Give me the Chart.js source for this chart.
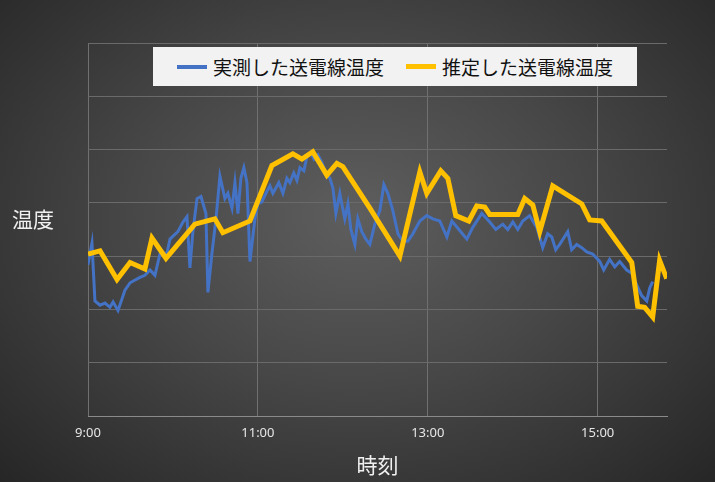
<!DOCTYPE html>
<html><head><meta charset="utf-8">
<script src="https://cdn.jsdelivr.net/npm/chart.js@4"></script>
<style>
html,body{margin:0;padding:0;}
body{width:715px;height:482px;overflow:hidden;position:relative;font-family:"Noto Sans CJK JP",sans-serif;
background:radial-gradient(ellipse at 50% 45%, #5e5e5e 0%, #474747 45%, #262626 100%);}
#c{position:absolute;left:0;top:0;}
#ytitle{position:absolute;left:12px;top:203px;color:#f0f0f0;font-size:21px;}
#legend{position:absolute;left:153px;top:47px;width:484px;height:39px;background:#f2f2f2;display:flex;align-items:center;justify-content:center;gap:22px;font-size:19px;color:#111;}
.it{display:flex;align-items:center;gap:6px;}
.sw{display:inline-block;width:30px;height:4px;}
</style></head><body>
<canvas id="c" width="715" height="482"></canvas>
<div id="ytitle">温度</div>
<div id="legend"><span class="it"><span class="sw" style="background:#4472C4"></span>実測した送電線温度</span><span class="it"><span class="sw" style="background:#FFC000;height:5px"></span>推定した送電線温度</span></div>
<script>
const measuredT=[0,2.8,4.9,8.5,12,15.5,17.7,21.2,26.1,29.7,36.7,40.2,43.8,47.3,50.8,55.8,57.9,63.5,67.1,69.9,72,74.1,77,79.8,83.3,84.7,87.5,90.4,93.2,96.7,98.8,101.7,103.8,105.9,108,110.1,112.3,114.4,117.9,120,122.8,125.7,128.5,130.6,132.7,134.8,137.7,140.5,142.6,145.4,147.6,149.7,152.5,154.6,157.4,159.6,162.4,165.2,168,170.9,173,175.1,177.9,179.3,181.4,183.6,185.7,188.5,190.6,193.4,196.3,199.1,202.6,206.2,209,211.8,215.3,218.9,222.4,225.9,229.5,234.4,239.3,243.6,248.5,253.5,257,262.6,267.6,271.8,278.2,283.8,288.1,293,296.5,300.1,303.6,307.1,312,317,321.2,324.7,327.6,330.4,333.2,338.9,341.7,345.2,348.8,352.3,356.5,361.5,364.3,368.5,372.1,375.6,380.5,384.1,387.6,391.1,394.7,396.8,398.9];
const measuredV=[34.2,36.2,30.8,30.4,30.6,30.2,30.7,29.9,31.8,32.5,33,33.2,33.7,33.2,35.2,35.3,36.6,37.3,38.2,38.7,33.9,37.3,40.4,40.6,39,31.6,35.2,38.5,42.5,40.4,40.9,39.5,41.9,39,42.3,43.3,41.9,34.5,38.5,39.9,40.1,40.9,41.6,40.9,41.4,41.9,40.9,42.3,41.9,42.8,42.1,43.3,43,44.3,44.7,44.1,44.5,43.8,42.8,42.3,41.4,39,40.9,39.9,38.5,39.9,37.5,36.1,38.5,37.3,36.6,36.1,38,39.3,41.7,40.9,39.3,37.1,36.4,36.4,37.1,38.3,38.8,38.5,38.3,36.8,38.3,37.4,36.6,37.7,39,38.2,37.5,38,37.5,38.2,37.5,38.3,38.8,37.7,35.8,37.1,36.8,35.6,36.1,37.3,35.6,36.1,35.8,35.4,35.2,34.5,33.7,34.7,34,34.5,33.7,33.4,32.3,31.3,30.8,32,32.6];
const estimatedT=[0,8.5,20.5,29.7,40.2,45.2,55.1,75.5,89.6,95.3,114.4,129.9,144.7,151.1,158.8,168.7,175.8,180,199.1,220.3,234.4,239.3,249.2,254.2,259.8,269,274.6,280.3,283.8,303.6,308.5,314.2,319.1,328.3,348.8,354.4,362.9,384.1,388.3,393.2,398.9,403.8,408.8];
const estimatedV=[35.2,35.5,32.8,34.4,33.8,36.7,34.8,38,38.5,37.2,38.3,43.5,44.6,44.1,44.8,42.6,43.7,43.4,39.5,35,42.9,40.9,43,42.3,38.8,38.3,39.7,39.6,38.9,38.9,40.4,39.8,37.3,41.6,39.9,38.4,38.3,34.4,30.3,30.2,29.3,34.6,32.9];
const tickMinutes=[0,120,240,360];
const seriesNames=['実測した送電線温度','推定した送電線温度'];
const xTitle='時刻', startHour=9;
const pts=(t,v)=>t.map((x,i)=>({x,y:v[i]}));
new Chart(document.getElementById('c'),{
 type:'line',
 data:{datasets:[
  {label:seriesNames[1],data:pts(estimatedT,estimatedV),borderColor:'#FFC000',borderWidth:5,pointRadius:0,tension:0},
  {label:seriesNames[0],data:pts(measuredT,measuredV),borderColor:'#4472C4',borderWidth:3,pointRadius:0,tension:0}
 ]},
 options:{responsive:false,animation:false,events:[],
  layout:{padding:{left:0,right:48,top:43,bottom:0}},
  plugins:{legend:{display:false},tooltip:{enabled:false}},
  scales:{
   x:{type:'linear',min:0,max:409,
      afterBuildTicks:s=>{s.ticks=tickMinutes.map(v=>({value:v}));},
      ticks:{color:'#e6e6e6',font:{size:13,family:'Noto Sans'},padding:9,maxRotation:0,
        callback:v=>(startHour+v/60)+':00'},
      grid:{color:'#707070',drawTicks:false},border:{color:'#8a8a8a'},
      title:{display:true,text:xTitle,color:'#f0f0f0',font:{size:21,family:'Noto Sans CJK JP'},padding:{top:0}},
      afterFit:s=>{s.height=66;}},
   y:{min:20,max:55,ticks:{display:false,stepSize:5},
      grid:{color:'#6a6a6a',drawTicks:false},border:{display:false},
      afterFit:s=>{s.width=88;}}
  }}
});
</script></body></html>
